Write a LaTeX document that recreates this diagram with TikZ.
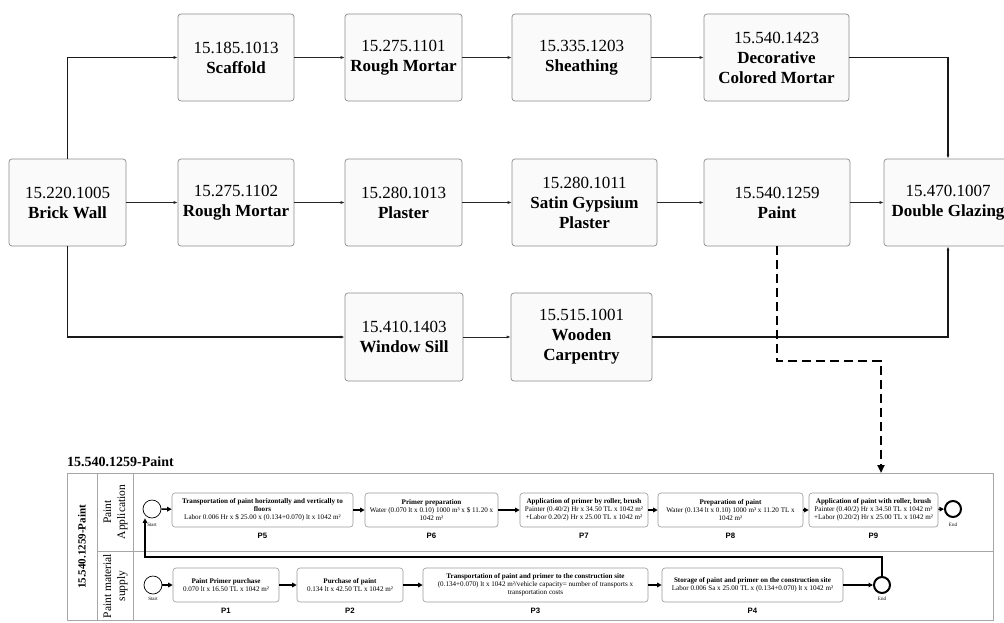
\documentclass[tikz,border=0pt]{standalone}
\usepackage{fontspec}
\setmainfont{Liberation Serif}
\newfontfamily\sansf{Liberation Sans}
\usetikzlibrary{arrows.meta}
\begin{document}
\begin{tikzpicture}[x=1pt,y=-1pt,
 blk/.style={draw=black!45, fill=black!2, rounded corners=3pt, line width=0.7pt, align=center, font=\fontsize{17}{20}\selectfont, inner sep=1pt},
 flow/.style={draw=black!85, line width=0.7pt, -{Latex[length=4pt,width=3pt]}},
 branch/.style={draw=black!90, line width=1.3pt, -{Latex[length=4pt,width=3pt]}},
 dashline/.style={draw=black, line width=2.2pt, dash pattern=on 9pt off 5pt, -{Triangle[length=8pt,width=7pt]}},
 task/.style={draw=black!40, fill=white, rounded corners=3pt, line width=0.6pt, align=center, font=\fontsize{7.1}{7.9}\selectfont, minimum height=34pt, inner sep=1pt},
 plbl/.style={font=\sansf\bfseries\fontsize{7.8}{8}\selectfont, inner sep=0pt},
 evs/.style={circle, draw=black, fill=white, minimum size=18pt, inner sep=0pt, line width=0.7pt},
 eve/.style={circle, draw=black, fill=white, minimum size=16pt, inner sep=0pt, line width=2pt},
 evlbl/.style={font=\fontsize{5}{6}\selectfont, inner sep=0pt},
 seq/.style={draw=black, line width=1.3pt, -{Triangle[length=4.5pt,width=4.5pt]}},
 poolline/.style={draw=black!35, line width=0.7pt},
 lanelbl/.style={rotate=90, align=center, font=\fontsize{11.5}{14}\selectfont, inner sep=0pt},
]
\useasboundingbox (0,0) rectangle (1004,622);
\clip (0,0) rectangle (1004,622);
\fill[white] (0,0) rectangle (1004,622);

% ---- top diagram ----
\node[blk, minimum width=117pt, minimum height=87pt] (bw) at (67.5,202.5) {15.220.1005\\\textbf{Brick Wall}};
\node[blk, minimum width=116pt, minimum height=87pt] (sc) at (236,57.5) {15.185.1013\\\textbf{Scaffold}};
\node[blk, minimum width=117pt, minimum height=87pt] (rm1) at (403.5,57.5) {15.275.1101\\\textbf{Rough Mortar}};
\node[blk, minimum width=139pt, minimum height=87pt] (sh) at (581.5,57.5) {15.335.1203\\\textbf{Sheathing}};
\node[blk, minimum width=145pt, minimum height=87pt] (dc) at (776.5,57.5) {15.540.1423\\\textbf{Decorative}\\\textbf{Colored Mortar}};

\node[blk, minimum width=116pt, minimum height=87pt] (rm2) at (236,202.5) {15.275.1102\\\textbf{Rough Mortar}};
\node[blk, minimum width=117pt, minimum height=87pt] (pl) at (403.5,202.5) {15.280.1013\\\textbf{Plaster}};
\node[blk, minimum width=145pt, minimum height=87pt] (sg) at (584.5,202.5) {15.280.1011\\\textbf{Satin Gypsium}\\\textbf{Plaster}};
\node[blk, minimum width=146pt, minimum height=87pt] (pa) at (777,202.5) {15.540.1259\\\textbf{Paint}};
\node[blk, minimum width=128pt, minimum height=87pt] (dg) at (948,202.5) {15.470.1007\\\textbf{Double Glazing}};

\node[blk, minimum width=118pt, minimum height=88pt] (ws) at (404,337) {15.410.1403\\\textbf{Window Sill}};
\node[blk, minimum width=141pt, minimum height=88pt] (wc) at (581.5,337) {15.515.1001\\\textbf{Wooden}\\\textbf{Carpentry}};

\draw[branch] (bw.north) |- (sc.west);
\draw[branch] (bw.south) |- (ws.west);
\draw[flow] (sc) -- (rm1);
\draw[flow] (rm1) -- (sh);
\draw[flow] (sh) -- (dc);
\draw[branch] (dc.east) -| (dg.north);
\draw[flow] (bw) -- (rm2);
\draw[flow] (rm2) -- (pl);
\draw[flow] (pl) -- (sg);
\draw[flow] (sg) -- (pa);
\draw[flow] (pa) -- (dg);
\draw[flow] (ws) -- (wc);
\draw[branch] (wc.east) -| (dg.south);

% ---- pool ----
\node[anchor=west, font=\bfseries\fontsize{14}{16}\selectfont, inner sep=0pt] (title) at (67,462) {15.540.1259-Paint};
\node[poolline, minimum width=926pt, minimum height=147pt, anchor=north west, inner sep=0pt] (pool) at (67,473) {};
\coordinate (c1t) at (97,473); \coordinate (c1b) at (97,620);
\coordinate (c2t) at (133,473); \coordinate (c2b) at (133,620);
\coordinate (ldl) at (97,551); \coordinate (ldr) at (993,551);
\draw[poolline] (c1t) -- (c1b);
\draw[poolline] (c2t) -- (c2b);
\draw[poolline] (ldl) -- (ldr);
\node[lanelbl, font=\bfseries\fontsize{11}{12}\selectfont] (poollbl) at (82,547) {15.540.1259-Paint};
\node[lanelbl] (lane1) at (115.5,512) {Paint\\Application};
\node[lanelbl] (lane2) at (115.5,586) {Paint material\\supply};

\coordinate (dk) at (881,361);
\draw[dashline] (pa.south) |- (dk) -- (dk |- pool.north);

% upper lane
\node[evs] (s1) at (152,509) {};
\node[evlbl] (s1l) at (152,525) {Start};
\node[task, minimum width=181pt] (p5) at (262.5,510) {\textbf{Transportation of paint horizontally and vertically to}\\\textbf{floors}\\Labor 0.006 Hr x \$ 25.00 x (0.134+0.070) lt x 1042 m²};
\node[task, minimum width=133pt] (p6) at (431.5,510) {\textbf{Primer preparation}\\Water (0.070 lt x 0.10) 1000 m³ x \$ 11.20 x\\1042 m²};
\node[task, minimum width=128pt] (p7) at (584,510) {\textbf{Application of primer by roller, brush}\\Painter (0.40/2) Hr x 34.50 TL x 1042 m²\\+Labor 0.20/2) Hr x 25.00 TL x 1042 m²};
\node[task, minimum width=145pt] (p8) at (730.5,510) {\textbf{Preparation of paint}\\Water (0.134 lt x 0.10) 1000 m³ x 11.20 TL x\\1042 m²};
\node[task, minimum width=129pt] (p9) at (873.5,510) {\textbf{Application of paint with roller, brush}\\Painter (0.40/2) Hr x 34.50 TL x 1042 m²\\+Labor (0.20/2) Hr x 25.00 TL x 1042 m²};
\node[eve] (e1) at (953,509) {};
\node[evlbl] (e1l) at (953,525) {End};
\node[plbl] (p5l) at (262.5,536) {P5};
\node[plbl] (p6l) at (431.5,536) {P6};
\node[plbl] (p7l) at (584,536) {P7};
\node[plbl] (p8l) at (730.5,536) {P8};
\node[plbl] (p9l) at (873.5,536) {P9};
\draw[seq] (s1) -- (p5);
\draw[seq] (p5) -- (p6);
\draw[seq] (p6) -- (p7);
\draw[seq] (p7) -- (p8);
\draw[seq] (p8) -- (p9);
\draw[seq] (p9) -- (e1);

% lower lane
\node[evs] (s2) at (153,585) {};
\node[evlbl] (s2l) at (153,599) {Start};
\node[task, minimum width=106pt] (p1) at (226,585) {\textbf{Paint Primer purchase}\\0.070 lt x 16.50 TL x 1042 m²};
\node[task, minimum width=106pt] (p2) at (350,585) {\textbf{Purchase of paint}\\0.134 lt x 42.50 TL x 1042 m²};
\node[task, minimum width=225pt] (p3) at (535.5,585) {\textbf{Transportation of paint and primer to the construction site}\\(0.134+0.070) lt x 1042 m²/vehicle capacity= number of transports x\\transportation costs};
\node[task, minimum width=181pt] (p4) at (752.5,585) {\textbf{Storage of paint and primer on the construction site}\\Labor 0.006 Sa x 25.00 TL x (0.134+0.070) lt x 1042 m²};
\node[eve] (e2) at (882,585) {};
\node[evlbl] (e2l) at (882,599) {End};
\node[plbl] (p1l) at (226,611) {P1};
\node[plbl] (p2l) at (350,611) {P2};
\node[plbl] (p3l) at (535.5,611) {P3};
\node[plbl] (p4l) at (752.5,611) {P4};
\draw[seq] (s2) -- (p1);
\draw[seq] (p1) -- (p2);
\draw[seq] (p2) -- (p3);
\draw[seq] (p3) -- (p4);
\draw[seq] (p4) -- (e2);

\coordinate (lp) at (145,557);
\draw[seq] (e2.north) |- (lp) -- (lp |- s1.south);
\end{tikzpicture}
\end{document}
